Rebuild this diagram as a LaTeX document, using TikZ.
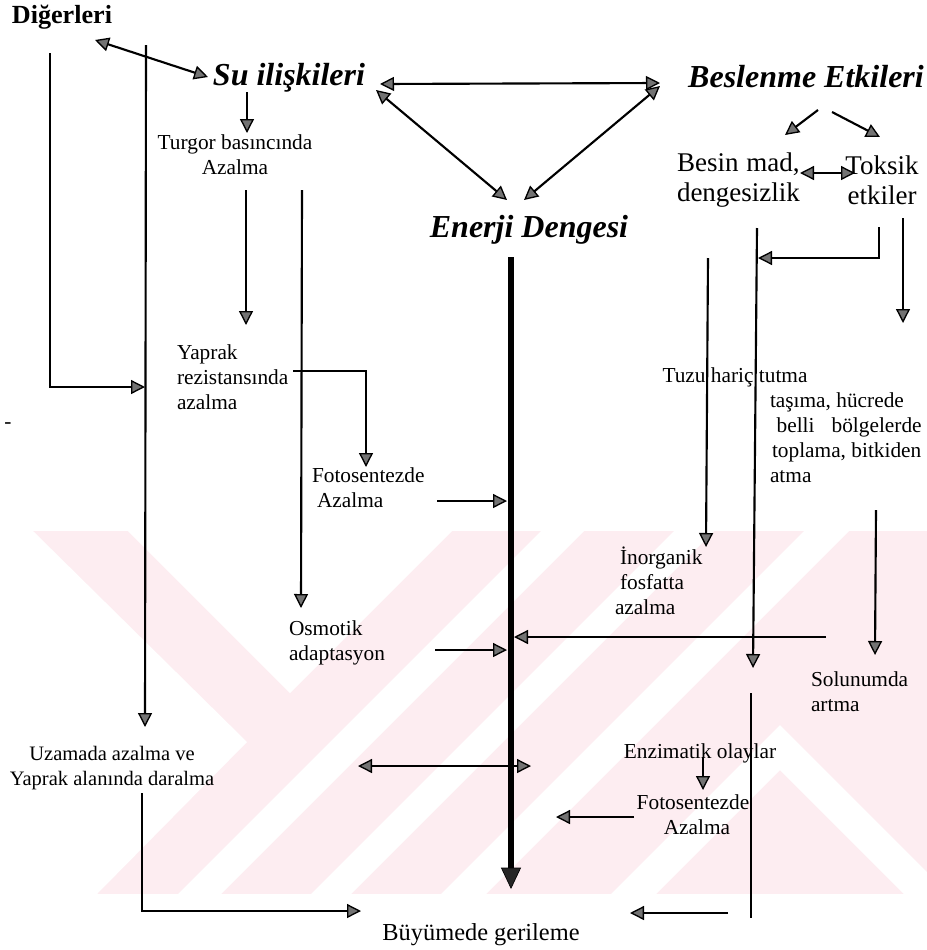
\documentclass[tikz,border=0pt]{standalone}
\usepackage{fontspec}
\setmainfont{Liberation Serif}
\usetikzlibrary{arrows.meta}
\definecolor{wm}{RGB}{253,237,241}
\tikzset{
  tipA/.tip={Triangle[length=10.5pt,width=10.5pt,fill=black!55,line width=1pt]},
  tipB/.tip={Triangle[length=16pt,width=15pt,fill=black!85,line width=0.5pt]}
}
\begin{document}
\begin{tikzpicture}[x=0.75pt,y=-0.75pt,
  every node/.style={inner sep=0pt,outer sep=0pt},
  body/.style={font=\fontsize{16}{18.75}\selectfont},
  head/.style={font=\fontsize{24}{28}\selectfont\bfseries\itshape},
  big/.style={font=\fontsize{20.25}{22.5}\selectfont},
  ln/.style={line width=1.6pt},
  arr/.style={ln,-tipA},
  dbl/.style={ln,tipA-tipA},
  thickarr/.style={line width=5.2pt,-tipB}
]
\useasboundingbox (0,0) rectangle (927,950);
\fill[white] (0,0) rectangle (927,950);
% watermark
\begin{scope}
\clip (0,531) rectangle (927,894);
\fill[wm] (0,531) rectangle (927,894);
\fill[white] (0,531) -- (33,531) -- (247,742) -- (97,894) -- (0,894) -- cycle;
\fill[white] (128,531) -- (290,693) -- (452,531) -- cycle;
\fill[white] (541,531) -- (584,531) -- (221,894) -- (178,894) -- cycle;
\fill[white] (674,531) -- (714,531) -- (351,894) -- (311,894) -- cycle;
\fill[white] (804,531) -- (849,531) -- (486,894) -- (441,894) -- cycle;
\fill[white] (780,725) -- (611,894) -- (656,894) -- (780,770) -- (904,894) -- (949,894) -- cycle;
\end{scope}

% nodes
\node[font=\fontsize{19.6}{22}\selectfont\bfseries] (dig) at (62,17) {Diğerleri};
\node[head] (su) at (289,78) {Su ilişkileri};
\node[head] (bes) at (806,77) {Beslenme Etkileri};
\node[head] (ene) at (529,230) {Enerji Dengesi};
\node[big,align=left,anchor=west] (besin) at (677,180) {\makebox[92pt][s]{Besin mad,}\\dengesizlik};
\node[big,align=center] (toks) at (882,180) {Toksik\\etkiler};
\node[body,align=center] (turgor) at (235,155) {Turgor basıncında\\Azalma};
\node[body,align=left,anchor=west] (yaprak) at (177,377) {Yaprak\\rezistansında\\azalma};
\node[body,align=left,anchor=west] (foto1) at (312,488) {Fotosentezde\\\hspace*{3.75pt}Azalma};
\node[body,align=left,anchor=west] (osm) at (289,643) {Osmotik\\adaptasyon};
\node[font=\fontsize{15.4}{18.75}\selectfont,align=center] (uzam) at (112,768) {Uzamada azalma ve\\Yaprak alanında daralma};
\node[body] (tuzu) at (735,377) {Tuzu hariç tutma};
\node[body,align=left,anchor=west] (tasima) at (770,438) {taşıma, hücrede\\\hspace*{5pt}\makebox[108.75pt][s]{belli bölgelerde}\\\hspace*{1.5pt}toplama, bitkiden\\atma};
\node[body,align=left,anchor=west] (inorg) at (615,581) {\hspace*{3.75pt}İnorganik\\\hspace*{3.75pt}fosfatta\\azalma};
\node[body,align=left,anchor=west] (solun) at (811,692) {Solunumda\\artma};
\node[body] (enz) at (700,753) {Enzimatik olaylar};
\node[body,align=center] (foto2) at (693,815) {Fotosentezde\\\hspace*{6pt}Azalma};
\node[font=\fontsize{18.3}{22}\selectfont] (buy) at (481,935) {Büyümede gerileme};
\node[body] (dash) at (8,426) {-};

% coordinates
\coordinate (dA) at (95,40);   \coordinate (sA) at (208,77);
\coordinate (sB) at (247,92);  \coordinate (tA) at (247,133);
\coordinate (L1) at (50,53);   \coordinate (L2) at (50,387);  \coordinate (L3) at (145,387);
\coordinate (V1) at (146,45);  \coordinate (V2) at (145,727);
\coordinate (T1) at (246,190); \coordinate (T2) at (246,325);
\coordinate (T3) at (302,190); \coordinate (T4) at (301,608);
\coordinate (Y1) at (293,371); \coordinate (Y2) at (366,371); \coordinate (Y3) at (366,467);
\coordinate (F1) at (437,501); \coordinate (F2) at (507,501);
\coordinate (O1) at (435,650); \coordinate (O2) at (507,650);
\coordinate (B1) at (511,257); \coordinate (B2) at (511,889);
\coordinate (sC) at (380,84);  \coordinate (bA) at (660,83);
\coordinate (sD) at (376,90);  \coordinate (eA) at (507,200);
\coordinate (bB) at (660,86);  \coordinate (eB) at (524,200);
\coordinate (bC) at (818,110); \coordinate (nA) at (785,135);
\coordinate (bD) at (832,112); \coordinate (kA) at (880,137);
\coordinate (nB) at (800,173); \coordinate (kB) at (855,173);
\coordinate (k1) at (879,227); \coordinate (k2) at (879,258); \coordinate (k3) at (758,258);
\coordinate (R1) at (757,228); \coordinate (R2) at (753,668);
\coordinate (R3) at (708,258); \coordinate (R4) at (706,547);
\coordinate (R5) at (903,218); \coordinate (R6) at (903,323);
\coordinate (R7) at (876,510); \coordinate (R8) at (875,655);
\coordinate (H1) at (826,637); \coordinate (H2) at (514,637);
\coordinate (R9) at (751,693); \coordinate (R10) at (751,918);
\coordinate (E1) at (703,757); \coordinate (E2) at (703,790);
\coordinate (G1) at (634,817); \coordinate (G2) at (556,817);
\coordinate (D1) at (358,766); \coordinate (D2) at (531,766);
\coordinate (U1) at (142,793); \coordinate (U2) at (142,911); \coordinate (U3) at (361,911);
\coordinate (X1) at (728,913); \coordinate (X2) at (630,913);

% connectors
\draw[dbl] (dA) -- (sA);
\draw[arr] (sB) -- (tA);
\draw[arr] (L1) -- (L2) -- (L3);
\draw[arr] (V1) -- (V2);
\draw[arr] (T1) -- (T2);
\draw[arr] (T3) -- (T4);
\draw[arr] (Y1) -- (Y2) -- (Y3);
\draw[arr] (F1) -- (F2);
\draw[arr] (O1) -- (O2);
\draw[thickarr] (B1) -- (B2);
\draw[dbl] (sC) -- (bA);
\draw[dbl] (sD) -- (eA);
\draw[dbl] (bB) -- (eB);
\draw[arr] (bC) -- (nA);
\draw[arr] (bD) -- (kA);
\draw[dbl] (nB) -- (kB);
\draw[arr] (k1) -- (k2) -- (k3);
\draw[arr] (R1) -- (R2);
\draw[arr] (R3) -- (R4);
\draw[arr] (R5) -- (R6);
\draw[arr] (R7) -- (R8);
\draw[arr] (H1) -- (H2);
\draw[ln] (R9) -- (R10);
\draw[arr] (E1) -- (E2);
\draw[arr] (G1) -- (G2);
\draw[dbl] (D1) -- (D2);
\draw[arr] (U1) -- (U2) -- (U3);
\draw[arr] (X1) -- (X2);
\end{tikzpicture}
\end{document}
